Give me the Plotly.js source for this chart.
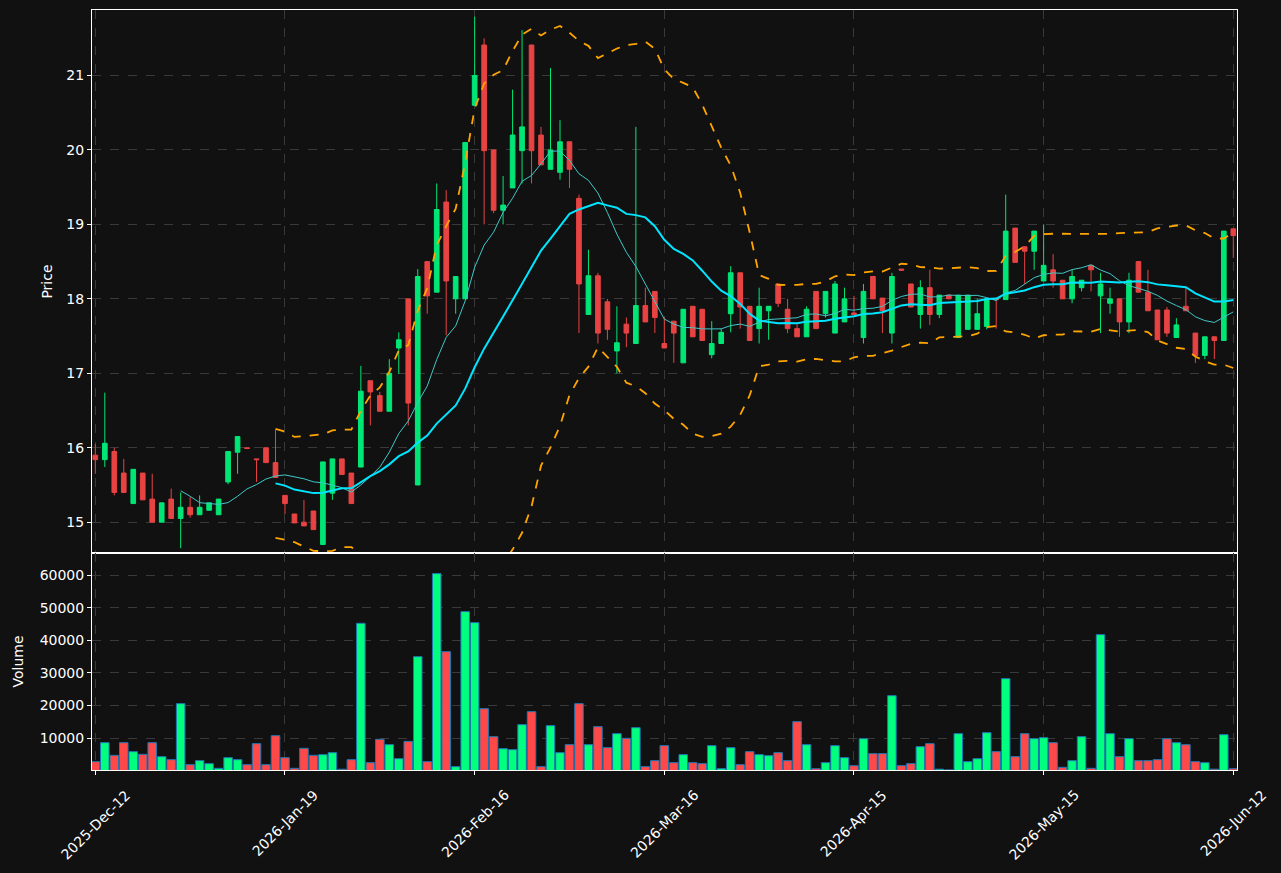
<!DOCTYPE html>
<html>
<head>
<meta charset="utf-8">
<script src="https://cdn.plot.ly/plotly-3.0.1.min.js"></script>
<style>
html,body{margin:0;padding:0;background:#111111;}
#chart{width:1281px;height:873px;}
</style>
</head>
<body>
<div id="chart"></div>
<script>
// Tick labels (every 20 trading sessions)
const tickIndex = [0, 20, 40, 60, 80, 100, 120];
const tickLabels = ["2025-Dec-12", "2026-Jan-19", "2026-Feb-16", "2026-Mar-16", "2026-Apr-15", "2026-May-15", "2026-Jun-12"];

const openPrice = [15.90,15.84,15.95,15.66,15.25,15.66,15.31,15.00,15.31,15.05,
 15.20,15.10,15.16,15.10,15.54,15.94,16.00,15.85,16.00,15.80,
 15.36,15.11,15.00,15.15,14.70,15.39,15.85,15.66,15.74,16.90,
 16.70,16.49,17.34,18.00,15.50,18.50,18.09,19.30,18.00,18.00,
 20.60,21.41,20.00,19.19,19.49,19.99,21.41,20.20,19.74,19.70,
 20.11,19.35,17.79,18.31,17.96,17.30,17.66,17.40,17.91,18.10,
 17.40,17.70,17.14,17.90,17.86,17.25,17.40,17.80,18.35,17.90,
 17.60,17.84,18.20,17.86,17.60,17.49,18.10,17.80,17.54,17.69,
 17.81,17.48,18.30,18.01,17.54,18.40,18.20,17.79,18.15,17.79,
 18.05,17.48,17.59,17.59,17.63,18.00,17.99,18.95,18.70,18.64,
 18.24,18.39,18.25,18.00,18.15,18.45,18.04,17.94,18.00,17.69,
 18.50,18.09,17.85,17.85,17.48,17.90,17.54,17.24,17.49,17.44,
 18.94];
const highPrice = [16.05,16.74,16.00,15.85,15.71,15.66,15.65,15.26,15.45,15.40,
 15.34,15.36,15.26,15.31,15.95,16.15,16.00,15.85,16.00,16.24,
 15.36,15.11,15.30,15.15,15.81,15.85,15.85,15.66,17.10,16.90,
 16.75,17.19,17.55,18.00,18.40,18.50,19.55,19.46,18.30,20.10,
 21.79,21.50,20.00,19.65,20.81,21.61,21.41,20.31,21.10,20.40,
 20.11,19.40,18.66,18.35,18.00,17.90,17.75,20.31,18.15,18.10,
 17.75,17.70,17.86,17.90,17.86,17.70,17.60,18.44,18.35,17.90,
 18.15,17.90,18.20,18.00,17.66,17.90,18.10,18.10,18.24,18.15,
 18.04,18.20,18.30,18.01,18.35,18.40,18.20,18.25,18.39,18.05,
 18.05,18.05,18.05,18.00,18.00,18.00,19.40,18.95,18.70,18.91,
 19.00,18.60,18.25,18.39,18.25,18.45,18.35,18.15,18.00,18.35,
 18.50,18.39,17.85,17.89,17.74,18.15,17.54,17.49,17.49,18.91,
 18.94];
const lowPrice = [15.65,15.74,15.36,15.39,15.25,15.30,15.00,15.00,15.05,14.65,
 15.06,15.10,15.16,15.10,15.51,15.65,15.99,15.54,15.80,15.60,
 15.11,14.99,14.95,14.90,14.70,15.30,15.64,15.25,15.74,16.30,
 16.49,16.49,16.99,16.30,15.50,17.80,18.09,17.51,17.80,18.00,
 20.60,19.00,19.15,19.00,19.49,19.55,19.55,19.80,19.74,19.60,
 19.49,17.54,17.79,17.40,17.45,17.00,17.35,17.40,17.69,17.54,
 17.34,17.14,17.14,17.49,17.44,17.20,17.40,17.55,17.60,17.44,
 17.40,17.45,17.89,17.54,17.49,17.49,17.60,17.75,17.54,17.69,
 17.79,17.40,18.00,17.54,17.40,18.38,17.89,17.60,17.65,17.74,
 18.00,17.48,17.59,17.59,17.59,17.60,17.99,18.49,18.20,18.39,
 18.24,18.15,18.00,17.94,18.10,18.10,17.54,17.80,17.49,17.54,
 18.09,17.84,17.45,17.49,17.48,17.84,17.14,17.19,17.19,17.44,
 18.55];
const closePrice = [15.84,16.06,15.40,15.40,15.71,15.30,15.00,15.26,15.05,15.20,
 15.10,15.20,15.26,15.31,15.95,16.15,15.99,15.84,15.80,15.60,
 15.25,14.99,14.95,14.90,15.81,15.85,15.64,15.25,16.76,16.75,
 16.49,17.00,17.45,16.60,18.30,18.04,19.20,18.24,18.30,20.10,
 21.00,19.99,19.19,19.26,20.20,20.31,19.99,19.80,20.00,20.11,
 19.74,18.20,18.31,17.54,17.59,17.41,17.54,17.91,17.69,17.75,
 17.34,17.54,17.86,17.49,17.44,17.40,17.55,18.35,17.89,17.44,
 17.90,17.90,17.94,17.60,17.49,17.86,17.60,18.10,18.20,18.00,
 17.79,18.10,18.00,17.84,18.30,18.385,17.89,18.15,17.79,18.05,
 18.00,18.05,18.05,17.80,18.00,17.99,18.91,18.49,18.64,18.91,
 18.45,18.24,18.00,18.30,18.25,18.39,18.20,18.00,17.69,18.25,
 18.09,17.84,17.45,17.54,17.65,17.84,17.24,17.49,17.44,18.91,
 18.85];
const volume = [2725,8565,4672,8565,5799,4979,8565,4262,3340,20553,
 1803,3032,2110,676,3954,3340,1803,8258,1803,10717,
 3954,676,6823,4672,4877,5491,400,3340,45246,2417,
 9590,7950,3647,8975,35000,2725,60512,36537,1188,48832,
 45451,19016,10410,6721,6414,14098,18094,1188,13791,5491,
 7950,20553,7950,13483,7028,11331,9897,13176,1188,3032,
 7643,2417,4877,2417,2110,7643,573,7028,1803,5799,
 4877,4570,5491,3032,15020,7950,573,2417,7643,3954,
 1495,9795,5184,5184,23012,1495,2110,7336,8258,420,
 200,11331,2725,3647,11639,5799,28237,4262,11331,9795,
 10102,8565,984,3032,10410,676,41762,11331,4262,9795,
 3032,3032,3340,9795,8565,7950,2725,2417,420,11024,
 573];

// ---- derived indicators (rolling mean / Bollinger bands of close) ----
const xIdx = closePrice.map((_, i) => i);
function rollingMean(arr, n) {
  return arr.map((_, i) => {
    if (i < n - 1) return null;
    let s = 0; for (let k = i - n + 1; k <= i; k++) s += arr[k];
    return s / n;
  });
}
function rollingStd(arr, n) {
  return arr.map((_, i) => {
    if (i < n - 1) return null;
    let s = 0; for (let k = i - n + 1; k <= i; k++) s += arr[k];
    const m = s / n; let v = 0;
    for (let k = i - n + 1; k <= i; k++) v += (arr[k] - m) * (arr[k] - m);
    return Math.sqrt(v / (n - 1));
  });
}
const ma10 = rollingMean(closePrice, 10);
const ma20 = rollingMean(closePrice, 20);
const sd20 = rollingStd(closePrice, 20);
const bbUpper = ma20.map((m, i) => m === null ? null : m + 2 * sd20[i]);
const bbLower = ma20.map((m, i) => m === null ? null : m - 2 * sd20[i]);

const upCandle = '#00e676', downCandle = '#e84343';
const upVol = '#00ff7f', downVol = '#ff4848';
const volColors = closePrice.map((c, i) => c >= openPrice[i] ? upVol : downVol);

const traces = [
  {
    type: 'candlestick', x: xIdx, open: openPrice, high: highPrice, low: lowPrice, close: closePrice,
    xaxis: 'x', yaxis: 'y', whiskerwidth: 0,
    increasing: {line: {color: upCandle, width: 1}, fillcolor: upCandle},
    decreasing: {line: {color: downCandle, width: 1}, fillcolor: downCandle},
    showlegend: false, hoverinfo: 'skip'
  },
  {type: 'scatter', mode: 'lines', x: xIdx, y: ma10, xaxis: 'x', yaxis: 'y',
   line: {color: '#40c8c8', width: 1}, showlegend: false, hoverinfo: 'skip'},
  {type: 'scatter', mode: 'lines', x: xIdx, y: ma20, xaxis: 'x', yaxis: 'y',
   line: {color: '#00e5ff', width: 2}, showlegend: false, hoverinfo: 'skip'},
  {type: 'scatter', mode: 'lines', x: xIdx, y: bbUpper, xaxis: 'x', yaxis: 'y',
   line: {color: '#ffa500', width: 1.8, dash: 'dash'}, showlegend: false, hoverinfo: 'skip'},
  {type: 'scatter', mode: 'lines', x: xIdx, y: bbLower, xaxis: 'x', yaxis: 'y',
   line: {color: '#ffa500', width: 1.8, dash: 'dash'}, showlegend: false, hoverinfo: 'skip'},
  {type: 'bar', x: xIdx, y: volume, xaxis: 'x2', yaxis: 'y2', width: 0.9,
   marker: {color: volColors, line: {color: '#1f77b4', width: 1}},
   showlegend: false, hoverinfo: 'skip'}
];

const gridC = '#3a3a3a';
const split = (770 - 553) / 760;
const xr = [-0.35, 120.39];

// rotated date labels, centred under their ticks
const dateAnnotations = tickIndex.map((xi, k) => ({
  x: xi, xref: 'x2', y: -14 / 760, yref: 'paper',
  text: tickLabels[k], textangle: -45, showarrow: false,
  xanchor: 'center', yanchor: 'top',
  font: {family: 'DejaVu Sans', size: 14, color: '#ffffff'}
}));

const layout = {
  width: 1281, height: 873,
  paper_bgcolor: '#111111', plot_bgcolor: '#111111',
  font: {family: 'DejaVu Sans', color: '#ffffff', size: 14},
  margin: {l: 92, r: 44, t: 10, b: 103, pad: 0},
  showlegend: false,
  bargap: 0,
  annotations: dateAnnotations,
  xaxis: {
    domain: [0, 1], anchor: 'y', range: xr, matches: 'x2',
    tickvals: tickIndex, showticklabels: false, ticks: '',
    showgrid: true, gridcolor: gridC, griddash: 'dash', gridwidth: 1,
    showline: true, mirror: true, linecolor: '#ffffff', linewidth: 1, zeroline: false,
    rangeslider: {visible: false}
  },
  yaxis: {
    domain: [split, 1], anchor: 'x', range: [14.586, 21.88],
    tickvals: [15, 16, 17, 18, 19, 20, 21], ticktext: ['15','16','17','18','19','20','21'],
    ticks: 'outside', ticklen: 4, tickcolor: '#ffffff',
    showgrid: true, gridcolor: gridC, griddash: 'dash', gridwidth: 1,
    showline: true, mirror: true, linecolor: '#ffffff', linewidth: 1, zeroline: false,
    title: {text: 'Price', font: {size: 14, color: '#ffffff'}, standoff: 10}
  },
  xaxis2: {
    domain: [0, 1], anchor: 'y2', range: xr,
    tickvals: tickIndex, showticklabels: false,
    ticks: 'outside', ticklen: 4, tickcolor: '#ffffff',
    showgrid: true, gridcolor: gridC, griddash: 'dash', gridwidth: 1,
    showline: true, mirror: true, linecolor: '#ffffff', linewidth: 1, zeroline: false
  },
  yaxis2: {
    domain: [0, split], anchor: 'x2', range: [166, 66850],
    tickvals: [10000, 20000, 30000, 40000, 50000, 60000],
    ticktext: ['10000','20000','30000','40000','50000','60000'],
    ticks: 'outside', ticklen: 4, tickcolor: '#ffffff',
    showgrid: true, gridcolor: gridC, griddash: 'dash', gridwidth: 1,
    showline: true, mirror: true, linecolor: '#ffffff', linewidth: 1, zeroline: false,
    title: {text: 'Volume', font: {size: 14, color: '#ffffff'}, standoff: 12}
  }
};

Plotly.newPlot('chart', traces, layout, {staticPlot: true, displayModeBar: false});
</script>
</body>
</html>
